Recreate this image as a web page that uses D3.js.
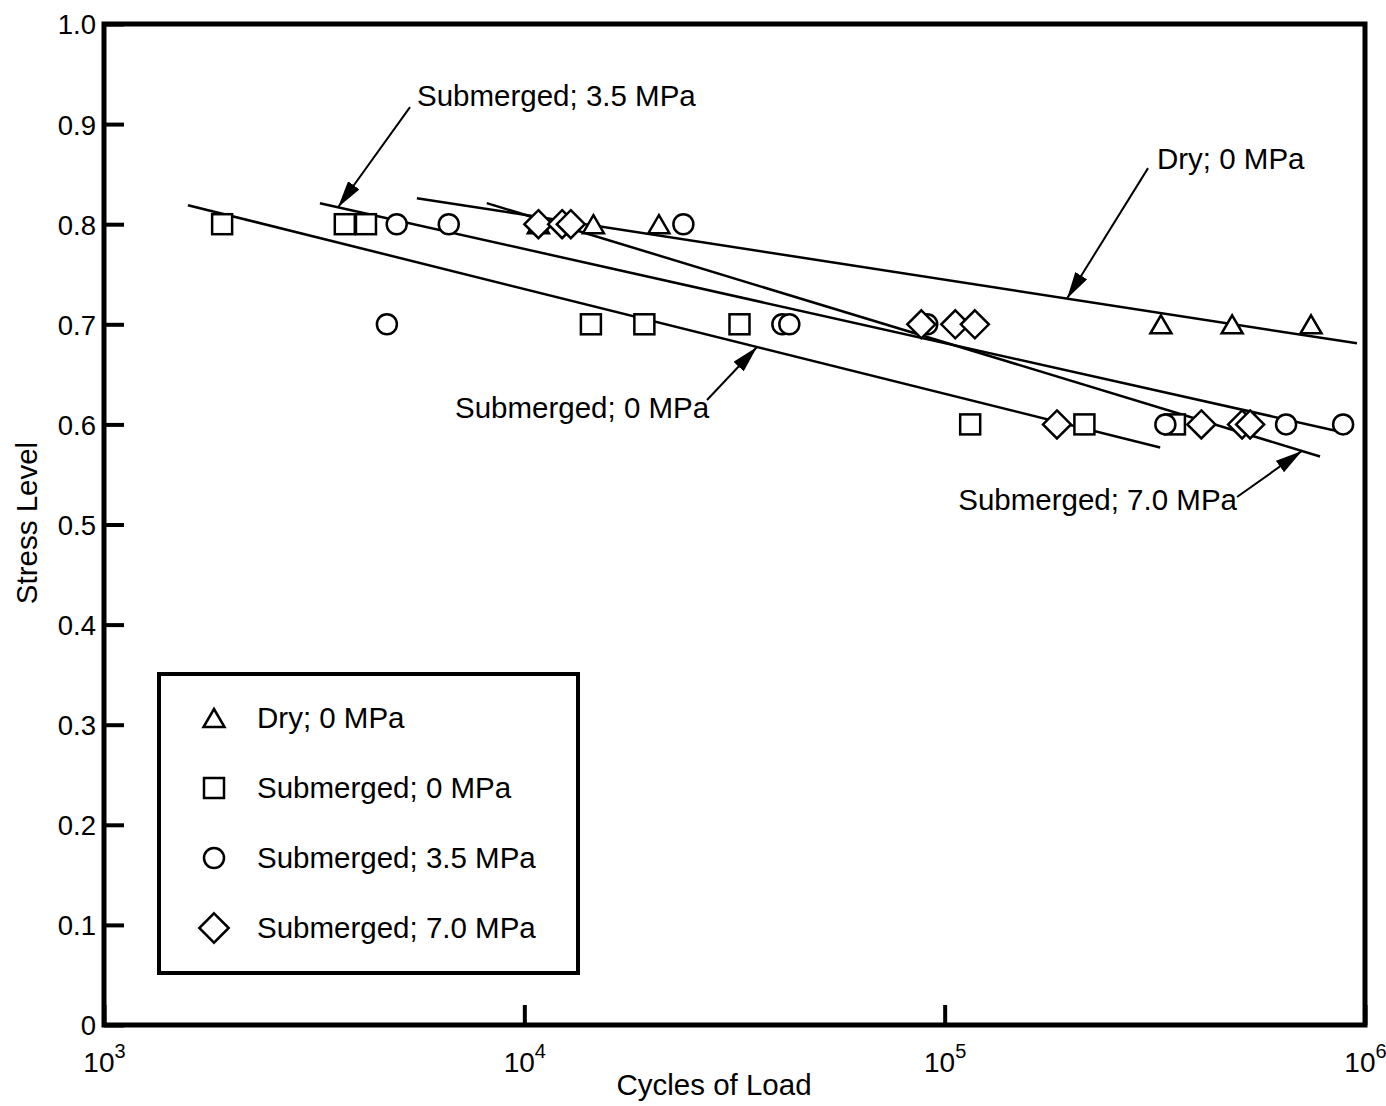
<!DOCTYPE html>
<html>
<head>
<meta charset="utf-8">
<script src="https://cdn.jsdelivr.net/npm/d3@7"></script>
<style>
  body { margin: 0; background: #fff; }
  text { font-family: "Liberation Sans", Arial, Helvetica, sans-serif; fill: #000; }
</style>
</head>
<body>
<div id="chart"></div>
<script>
const dryCycles = [10800, 14600, 20900, 327000, 483000, 744000];
const dryStress = [0.8, 0.8, 0.8, 0.7, 0.7, 0.7];

const sub0Cycles = [1910, 3740, 4200, 14400, 19300, 32500, 115000, 215000, 353000];
const sub0Stress = [0.8, 0.8, 0.8, 0.7, 0.7, 0.7, 0.6, 0.6, 0.6];

const sub35Cycles = [4970, 6610, 23900, 4710, 41100, 42700, 90900, 335000, 649000, 887000];
const sub35Stress = [0.8, 0.8, 0.8, 0.7, 0.7, 0.7, 0.7, 0.6, 0.6, 0.6];

const sub70Cycles = [10800, 12300, 12900, 88000, 106000, 118000, 185000, 408000, 510000, 533000];
const sub70Stress = [0.8, 0.8, 0.8, 0.7, 0.7, 0.7, 0.6, 0.6, 0.6, 0.6];

// fitted lines (two ends each)
const dryFitCycles = [5550, 957000];
const dryFitStress = [0.826, 0.681];
const sub0FitCycles = [1584, 325600];
const sub0FitStress = [0.819, 0.577];
const sub35FitCycles = [3263, 911000];
const sub35FitStress = [0.821, 0.591];
const sub70FitCycles = [8140, 781700];
const sub70FitStress = [0.821, 0.568];

const seriesNames = ["Dry; 0 MPa", "Submerged; 0 MPa", "Submerged; 3.5 MPa", "Submerged; 7.0 MPa"];
const seriesShapes = ["triangle", "square", "circle", "diamond"];

const xTickValues = [1e3, 1e4, 1e5, 1e6];
const xTickExponents = ["3", "4", "5", "6"];
const yTickValues = [0, 0.1, 0.2, 0.3, 0.4, 0.5, 0.6, 0.7, 0.8, 0.9, 1.0];

// callouts: label, where the text sits, arrow tail, arrow tip on its fit line
const calloutLabels = ["Submerged; 3.5 MPa", "Dry; 0 MPa", "Submerged; 0 MPa", "Submerged; 7.0 MPa"];
const calloutTextCycles = [5555, 320000, 6840, 496000];
const calloutTextStress = [0.918, 0.855, 0.6064, 0.5145];
const calloutTailCycles = [5346, 304700, 27200, 496000];
const calloutTailStress = [0.917, 0.856, 0.6244, 0.5275];
const calloutTipCycles = [3604, 195500, 35780, 708000];

const width = 1386, height = 1106;
const plotLeft = 104, plotRight = 1365, plotTop = 24, plotBottom = 1025;
const labelSize = 29.5;

const svg = d3.select("#chart")
    .append("svg")
    .attr("width", width)
    .attr("height", height);

const x = d3.scaleLog().domain([1e3, 1e6]).range([plotLeft, plotRight]);
const y = d3.scaleLinear().domain([0, 1]).range([plotBottom, plotTop]);

// axes (ticks point inward)
const yAxis = svg.append("g")
    .attr("transform", "translate(" + plotLeft + ",0)")
    .call(d3.axisLeft(y)
        .tickValues(yTickValues)
        .tickSize(-20)
        .tickPadding(8)
        .tickFormat(d => d === 0 ? "0" : d3.format(".1f")(d)));
yAxis.select(".domain").remove();
yAxis.selectAll(".tick line").attr("stroke", "#000").attr("stroke-width", 4);
yAxis.selectAll(".tick text")
    .attr("font-size", 27.5)
    .attr("dy", "0.36em");

const xAxis = svg.append("g")
    .attr("transform", "translate(0," + plotBottom + ")")
    .call(d3.axisBottom(x)
        .tickValues(xTickValues)
        .tickSize(-20)
        .tickFormat(""));
xAxis.select(".domain").remove();
xAxis.selectAll(".tick line").attr("stroke", "#000").attr("stroke-width", 4);
xAxis.selectAll(".tick").each(function(d, i) {
    const t = d3.select(this).append("text")
        .attr("y", 47)
        .attr("text-anchor", "middle")
        .attr("font-size", 28);
    t.append("tspan").text("10");
    t.append("tspan").attr("dy", -14).attr("font-size", 20).text(xTickExponents[i]);
});

// frame
svg.append("rect")
    .attr("x", plotLeft)
    .attr("y", plotTop)
    .attr("width", plotRight - plotLeft)
    .attr("height", plotBottom - plotTop)
    .attr("fill", "none")
    .attr("stroke", "#000")
    .attr("stroke-width", 5);

svg.append("text")
    .attr("x", 714)
    .attr("y", 1095)
    .attr("text-anchor", "middle")
    .attr("font-size", labelSize)
    .text("Cycles of Load");

svg.append("text")
    .attr("transform", "translate(37,523) rotate(-90)")
    .attr("text-anchor", "middle")
    .attr("font-size", labelSize)
    .text("Stress Level");

// symbols
function drawSymbol(g, shape, cx, cy, s) {
    if (shape === "circle") {
        g.append("circle").attr("cx", cx).attr("cy", cy).attr("r", 10 * s);
    } else if (shape === "square") {
        g.append("rect").attr("x", cx - 10 * s).attr("y", cy - 10 * s)
            .attr("width", 20 * s).attr("height", 20 * s);
    } else if (shape === "diamond") {
        const h = 14 * s;
        g.append("path").attr("d", "M" + cx + "," + (cy - h) + "L" + (cx + h) + "," + cy +
            "L" + cx + "," + (cy + h) + "L" + (cx - h) + "," + cy + "Z");
    } else {
        const w = 10.5 * s, hh = 9 * s;
        g.append("path").attr("d", "M" + cx + "," + (cy - hh) + "L" + (cx + w) + "," + (cy + hh) +
            "L" + (cx - w) + "," + (cy + hh) + "Z");
    }
}

const plot = svg.append("g");

const fitCycles = [dryFitCycles, sub0FitCycles, sub35FitCycles, sub70FitCycles];
const fitStress = [dryFitStress, sub0FitStress, sub35FitStress, sub70FitStress];
const line = d3.line().x(d => x(d[0])).y(d => y(d[1]));

fitCycles.forEach((c, i) => {
    plot.append("path")
        .attr("d", line(d3.zip(c, fitStress[i])))
        .attr("fill", "none")
        .attr("stroke", "#000")
        .attr("stroke-width", 2.5);
});

const pointCycles = [dryCycles, sub0Cycles, sub35Cycles, sub70Cycles];
const pointStress = [dryStress, sub0Stress, sub35Stress, sub70Stress];

pointCycles.forEach((c, i) => {
    const g = plot.append("g")
        .attr("fill", "#fff")
        .attr("stroke", "#000")
        .attr("stroke-width", 2.5);
    c.forEach((v, j) => drawSymbol(g, seriesShapes[i], x(v), y(pointStress[i][j]), 1));
});

// callouts
svg.append("defs").append("marker")
    .attr("id", "arrow")
    .attr("markerUnits", "userSpaceOnUse")
    .attr("viewBox", "0 -7 27 14")
    .attr("refX", 27)
    .attr("refY", 0)
    .attr("markerWidth", 27)
    .attr("markerHeight", 14)
    .attr("orient", "auto")
    .append("path")
    .attr("d", "M0,-7L27,0L0,7Z")
    .attr("fill", "#000");

// which fit line each callout points at
const calloutFit = [2, 0, 1, 3];

function stressOnFit(k, c) {
    const fx = fitCycles[k].map(v => Math.log10(v));
    const t = (Math.log10(c) - fx[0]) / (fx[1] - fx[0]);
    return fitStress[k][0] + t * (fitStress[k][1] - fitStress[k][0]);
}

calloutLabels.forEach((label, i) => {
    const tipStress = stressOnFit(calloutFit[i], calloutTipCycles[i]);
    svg.append("line")
        .attr("x1", x(calloutTailCycles[i]))
        .attr("y1", y(calloutTailStress[i]))
        .attr("x2", x(calloutTipCycles[i]))
        .attr("y2", y(tipStress))
        .attr("stroke", "#000")
        .attr("stroke-width", 2)
        .attr("marker-end", "url(#arrow)");
    svg.append("text")
        .attr("x", x(calloutTextCycles[i]))
        .attr("y", y(calloutTextStress[i]))
        .attr("text-anchor", i === 3 ? "end" : "start")
        .attr("font-size", labelSize)
        .text(label);
});

// legend
const legend = svg.append("g");
legend.append("rect")
    .attr("x", 159)
    .attr("y", 674)
    .attr("width", 419)
    .attr("height", 299)
    .attr("fill", "#fff")
    .attr("stroke", "#000")
    .attr("stroke-width", 4);

seriesNames.forEach((name, i) => {
    const cy = 718 + i * 70;
    const g = legend.append("g")
        .attr("fill", "#fff")
        .attr("stroke", "#000")
        .attr("stroke-width", 2.5);
    drawSymbol(g, seriesShapes[i], 214, cy, i === 3 ? 1.05 : 1.0);
    legend.append("text")
        .attr("x", 257)
        .attr("y", cy + 10)
        .attr("font-size", labelSize)
        .text(name);
});
</script>
</body>
</html>
